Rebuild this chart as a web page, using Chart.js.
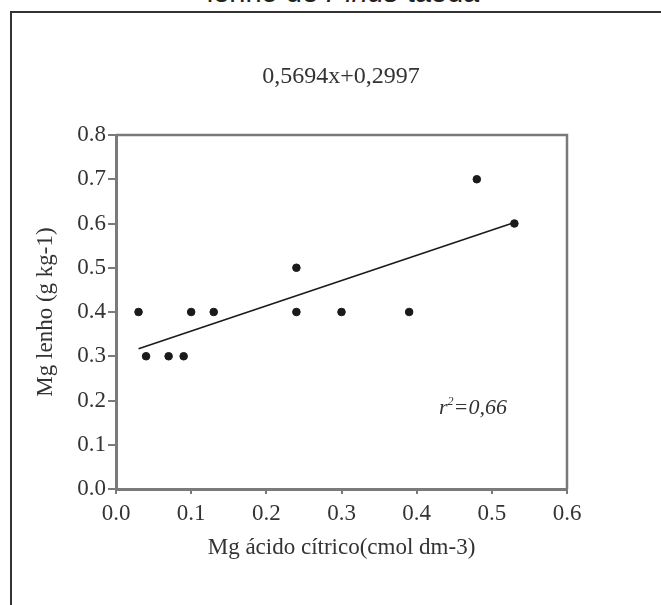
<!DOCTYPE html>
<html>
<head>
<meta charset="utf-8">
<script src="https://cdn.jsdelivr.net/npm/chart.js@4.4.1/dist/chart.umd.min.js"></script>
<style>
    body { margin: 0; background: #fff; overflow: hidden; }
    #wrap { position: relative; width: 661px; height: 605px; overflow: hidden; }
    #frame { position: absolute; left: 10px; top: 11px; width: 720px; height: 720px; border: 2px solid #333; box-sizing: border-box; }
    #title { position: absolute; left: 0; width: 686px; top: -22px; text-align: center; font: 29px/29px "Liberation Sans", Arial, sans-serif; color: #222; white-space: nowrap; }
    #eq { position: absolute; left: 0; width: 682px; top: 63px; text-align: center; font: 24px/24px "Liberation Serif", "Times New Roman", serif; color: #333; }
    #r2 { position: absolute; left: 439px; top: 396px; font: italic 22px/22px "Liberation Serif", "Times New Roman", serif; color: #333; }
    #r2 sup { font-size: 12px; vertical-align: 9px; line-height: 0; }
    canvas { position: absolute; left: 0; top: 0; }
</style>
</head>
<body>
<div id="wrap">
    <div id="frame"></div>
    <div id="title">lenho de <i>Pinus</i> taeda</div>
    <canvas id="scatterChart" width="661" height="605"></canvas>
    <div id="eq">0,5694x+0,2997</div>
    <div id="r2">r<sup>2</sup>=0,66</div>
</div>
<script>
const mgCitric = [0.03, 0.04, 0.07, 0.09, 0.10, 0.13, 0.24, 0.24, 0.30, 0.39, 0.48, 0.53];
const mgWood   = [0.40, 0.30, 0.30, 0.30, 0.40, 0.40, 0.50, 0.40, 0.40, 0.40, 0.70, 0.60];

// Fitted line end points, as drawn
const trendX = [0.03, 0.53];
const trendY = [0.317, 0.602];

const xTitle = 'Mg ácido cítrico(cmol dm-3)';
const yTitle = 'Mg lenho (g kg-1)';

const axisGray = '#7a7a7a';
const serif = '"Liberation Serif", "Times New Roman", serif';

// Draws the box around the plot area (top and right sides)
const frameBox = {
    id: 'frameBox',
    beforeDatasetsDraw(chart) {
        const {ctx, chartArea} = chart;
        ctx.save();
        ctx.strokeStyle = axisGray;
        ctx.lineWidth = 2.5;
        ctx.beginPath();
        ctx.moveTo(chartArea.left, chartArea.top);
        ctx.lineTo(chartArea.right, chartArea.top);
        ctx.lineTo(chartArea.right, chartArea.bottom);
        ctx.stroke();
        ctx.restore();
    }
};

new Chart(document.getElementById('scatterChart').getContext('2d'), {
    type: 'scatter',
    data: {
        datasets: [
            {
                label: 'Observado',
                data: mgCitric.map((x, i) => ({x: x, y: mgWood[i]})),
                backgroundColor: '#1a1a1a',
                borderColor: '#1a1a1a',
                pointRadius: 3.8,
                pointHoverRadius: 3.8,
            },
            {
                label: 'Ajuste',
                type: 'line',
                data: trendX.map((x, i) => ({x: x, y: trendY[i]})),
                borderColor: '#1a1a1a',
                borderWidth: 1.6,
                pointRadius: 0,
                fill: false,
            },
        ],
    },
    options: {
        responsive: false,
        animation: false,
        layout: {
            padding: {left: 0, top: 135, right: 94, bottom: 0},
        },
        plugins: {
            legend: {display: false},
            tooltip: {enabled: false},
        },
        scales: {
            x: {
                type: 'linear',
                min: 0,
                max: 0.6,
                afterFit: (scale) => { scale.height = 116; },
                border: {display: true, color: axisGray, width: 3},
                grid: {display: true, drawOnChartArea: false, color: axisGray, tickLength: 5, lineWidth: 2},
                ticks: {
                    stepSize: 0.1,
                    padding: 6,
                    color: '#333',
                    font: {family: serif, size: 23},
                    callback: (v) => v.toFixed(1),
                },
                title: {
                    display: true,
                    text: xTitle,
                    color: '#333',
                    font: {family: serif, size: 23},
                    padding: {top: 0, bottom: 43},
                },
            },
            y: {
                type: 'linear',
                min: 0,
                max: 0.8,
                afterFit: (scale) => { scale.width = 116; },
                border: {display: true, color: axisGray, width: 3},
                grid: {display: true, drawOnChartArea: false, color: axisGray, tickLength: 8, lineWidth: 2},
                ticks: {
                    stepSize: 0.1,
                    padding: 2,
                    color: '#333',
                    font: {family: serif, size: 23},
                    callback: (v) => v.toFixed(1),
                },
                title: {
                    display: true,
                    text: yTitle,
                    color: '#333',
                    font: {family: serif, size: 23},
                    padding: {top: 32, bottom: 0},
                },
            },
        },
    },
    plugins: [frameBox],
});
</script>
</body>
</html>
